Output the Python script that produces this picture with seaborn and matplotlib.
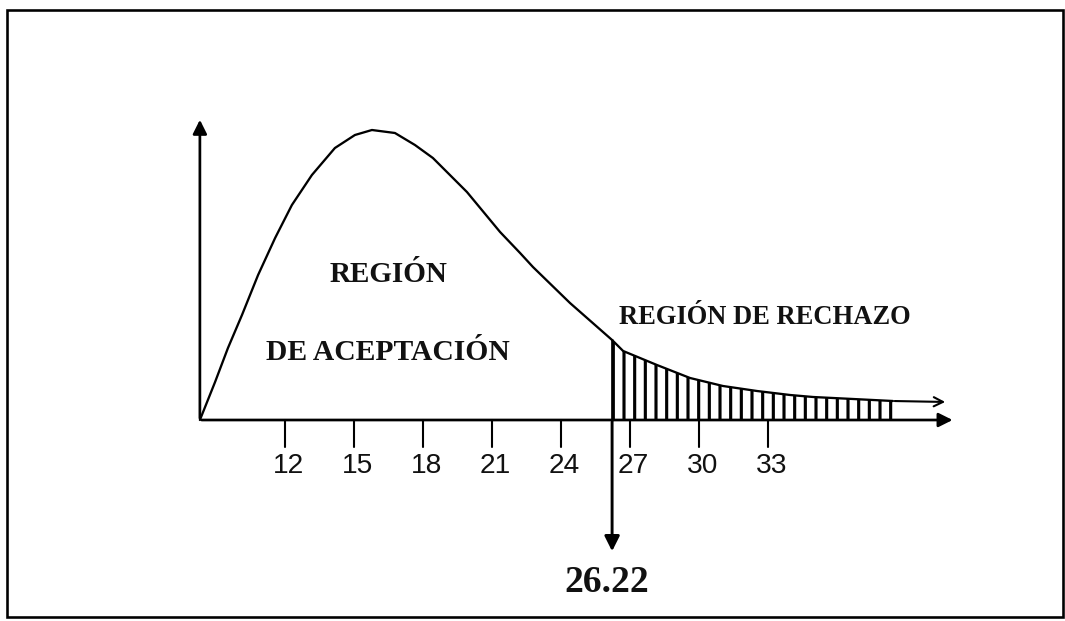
import matplotlib
matplotlib.use("Agg")
import matplotlib.pyplot as plt
import matplotlib.patches as patches
import seaborn as sns
import pandas as pd

# schematic chi-square curve (height in arbitrary units)
curve_x = [8.30, 8.96, 9.52, 10.13, 10.83, 11.57, 12.30, 13.17, 14.17, 15.04,
           15.78, 16.78, 17.65, 18.43, 19.91, 21.35, 22.22, 22.78, 24.39, 26.22,
           26.70, 28.17, 29.61, 31.04, 32.52, 33.96, 34.96, 36.70, 38.43, 40.78]
curve_y = [0, 38, 72, 105, 145, 182, 215, 245, 272, 285,
           290, 287, 275, 262, 228, 188, 167, 153, 117, 80,
           69, 55, 42, 34, 29, 25, 23, 21, 19, 18]

tick_values = [12, 15, 18, 21, 24, 27, 30, 33]
tick_labels = ["12", "15", "18", "21", "24", "27", "30", "33"]
critical_value = 26.22
shade_end = 38.43

acc_label_1 = "REGIÓN"
acc_label_2 = "DE ACEPTACIÓN"
rej_label = "REGIÓN DE RECHAZO"

df = pd.DataFrame({"x": curve_x, "y": curve_y})

DPI = 64
S = 75 / DPI  # sizes below were tuned for 75 dpi

sns.set_style("white")
plt.rcParams["hatch.linewidth"] = 3.0 * S
plt.rcParams["hatch.color"] = "black"

fig = plt.figure(figsize=(1065 / DPI, 621 / DPI))
ax = fig.add_axes([0, 0, 1, 1])
ax.set_xlim(-0.39, 45.91)
ax.set_ylim(-201, 420)
ax.axis("off")

# rejection region with vertical hatching
tail = df[(df["x"] >= critical_value) & (df["x"] <= shade_end)]
ax.fill_between(tail["x"], 0, tail["y"], facecolor="white", edgecolor="black",
                hatch="|", linewidth=0)

# curve (last segment drawn as an arrow)
sns.lineplot(data=df.iloc[:-1], x="x", y="y", color="black", linewidth=2.2 * S,
             ax=ax, sort=False)
ax.annotate("", xy=(curve_x[-1], curve_y[-1]), xytext=(curve_x[-2], curve_y[-2]),
            arrowprops=dict(arrowstyle="->", color="black", lw=2.0 * S,
                            mutation_scale=22 * S))

# axes drawn as arrows
x0 = curve_x[0]
ax.annotate("", xy=(41.1, 0), xytext=(x0, 0),
            arrowprops=dict(arrowstyle="-|>", color="black", lw=2.6 * S,
                            mutation_scale=28 * S))
ax.annotate("", xy=(x0, 302), xytext=(x0, 0),
            arrowprops=dict(arrowstyle="-|>", color="black", lw=2.6 * S,
                            mutation_scale=28 * S))

# ticks below the axis
for v, lab in zip(tick_values, tick_labels):
    ax.plot([v, v], [0, -27], color="black", lw=2.0 * S)
    ax.text(v + 0.15, -46, lab, ha="center", va="center", fontsize=27 * S,
            family="Liberation Sans", color="#111111")

# critical value arrow
ax.plot([critical_value, critical_value], [0, 80], color="black", lw=2.6 * S)
ax.annotate("", xy=(critical_value, -133), xytext=(critical_value, 0),
            arrowprops=dict(arrowstyle="-|>", color="black", lw=2.8 * S,
                            mutation_scale=30 * S))
ax.text(critical_value - 0.25, -162, f"{critical_value:.2f}", ha="center", va="center",
        fontsize=36 * S, fontweight="bold", family="Liberation Serif", color="#111111")

# region labels
ax.text(16.5, 145, acc_label_1, ha="center", va="center", fontsize=28 * S,
        fontweight="bold", family="Liberation Serif", color="#111111")
ax.text(16.48, 68, acc_label_2, ha="center", va="center", fontsize=28.4 * S,
        fontweight="bold", family="Liberation Serif", color="#111111")
ax.text(32.87, 103, rej_label, ha="center", va="center", fontsize=25.5 * S,
        fontweight="bold", family="Liberation Serif", color="#111111")

# outer frame of the scanned figure
frame = patches.Rectangle((7 / 1065, 4 / 621), 1056 / 1065, 607 / 621,
                          transform=fig.transFigure, fill=False,
                          edgecolor="black", linewidth=2.5 * S)
fig.patches.append(frame)

fig.savefig("out.png", dpi=DPI)
